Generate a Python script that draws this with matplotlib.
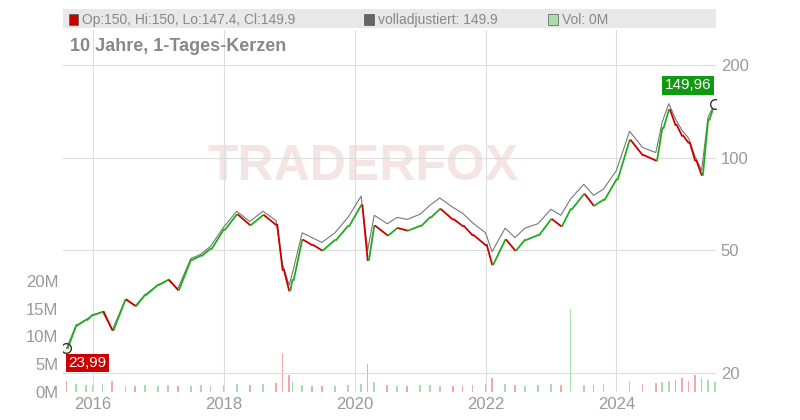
import matplotlib
matplotlib.use("Agg")
import matplotlib.pyplot as plt
import numpy as np
plt.rcParams['font.family'] = ['Liberation Sans', 'DejaVu Sans']

dates = [2015.6,2015.75,2015.9,2016.0,2016.15,2016.3,2016.5,2016.65,2016.8,2017.0,2017.15,2017.3,2017.5,2017.65,2017.8,2018.0,2018.2,2018.4,2018.6,2018.8,2018.9,2019.0,2019.05,2019.2,2019.35,2019.5,2019.7,2019.9,2020.1,2020.2,2020.3,2020.5,2020.65,2020.8,2021.0,2021.15,2021.3,2021.5,2021.65,2021.8,2022.0,2022.1,2022.3,2022.45,2022.6,2022.8,2023.0,2023.15,2023.3,2023.5,2023.65,2023.8,2024.0,2024.2,2024.4,2024.6,2024.7,2024.8,2024.9,2025.0,2025.1,2025.2,2025.3,2025.4,2025.5]
close = [23.99,28.5,29.7,30.8,31.5,27.5,34.5,33.0,35.8,38.6,40.0,37.2,46.5,48.0,50.6,58.3,65.3,60.5,65.0,60.5,43.2,37.0,40.0,54.0,52.0,50.0,54.0,60.0,70.0,46.5,60.0,56.0,59.0,58.0,60.0,64.0,68.0,63.0,60.0,56.0,52.0,45.0,54.0,50.0,54.0,56.0,63.0,60.0,68.0,76.0,70.0,73.0,85.0,114.0,102.0,98.0,125.0,143.0,128.0,118.0,112.0,98.0,88.0,133.0,149.9]
adjusted = [23.99,28.5,29.7,30.8,31.5,27.5,34.5,33.0,35.8,38.6,40.0,37.5,47.0,48.5,51.5,59.5,67.0,62.0,67.0,62.5,45.0,38.5,42.0,57.0,55.0,53.0,57.0,64.0,75.0,50.0,65.0,61.0,64.0,63.0,65.5,70.0,74.0,69.0,66.0,61.5,57.0,49.5,59.0,55.0,59.0,61.0,68.0,65.0,73.5,82.0,75.5,79.0,91.0,122.0,108.0,104.0,131.0,150.0,134.0,123.0,116.0,101.0,91.0,136.0,149.9]
volume = [2.0,1.5,1.2,1.3,1.5,2.0,1.0,1.1,1.2,1.0,1.3,1.1,1.0,1.2,1.1,1.3,1.5,1.2,1.4,1.6,7.0,3.0,1.8,1.2,1.0,1.1,1.0,1.2,1.5,5.0,1.8,1.2,1.0,1.1,1.3,1.2,1.0,1.1,1.0,1.2,1.5,2.5,1.5,1.2,1.1,1.3,1.5,1.2,15.0,1.3,1.2,1.4,1.5,2.0,1.5,1.6,1.8,2.0,2.2,2.5,2.0,3.0,2.5,2.2,1.8]

fig = plt.figure(figsize=(8,4.2), dpi=100)
ax = fig.add_axes([0.079,0.067,0.816,0.862])
axv = ax.twinx()
axv.yaxis.tick_left(); ax.yaxis.tick_right()
axv.set_ylim(0,65.3)
vcols = ["#a8dca8" if i>0 and close[i]>=close[i-1] else "#f0a8a8" for i in range(len(close))]
axv.bar(dates, volume, width=0.025, color=vcols, zorder=1)
axv.set_yticks([0,5,10,15,20]); axv.set_yticklabels(["0M","5M","10M","15M","20M"])

ax.set_zorder(2); ax.patch.set_visible(False)
ax.set_yscale("log"); ax.set_ylim(17.3,261); ax.set_xlim(2015.55,2025.52)
ax.set_yticks([20,50,100,200]); ax.set_yticklabels(["20","50","100","200"])
ax.minorticks_off()
ax.set_xticks([2016,2018,2020,2022,2024]); ax.set_xticklabels(["2016","2018","2020","2022","2024"])
ax.grid(True, color="#dddddd", lw=0.8)
for a in (ax,axv):
    for s in a.spines.values(): s.set_visible(False)
    a.tick_params(colors="#999999", labelsize=12, length=0)

ax.text(0.46,0.62,"TRADERFOX",transform=ax.transAxes,fontsize=36,fontweight="bold",color="#f4e4e4",ha="center",va="center",zorder=0)
ax.plot(dates, adjusted, color="#777777", lw=0.8, zorder=3)
for i in range(1,len(dates)):
    o,c = close[i-1], close[i]
    col = "#22aa22" if c>=o else "#cc0000"
    ax.plot([dates[i-1]+0.02,dates[i]],[o,c],color=col,lw=1.3,zorder=4)
ax.plot([dates[0]],[close[0]],"o",mfc="none",mec="#333333",ms=7,zorder=5)
ax.plot([dates[-1]],[close[-1]],"o",mfc="white",mec="#333333",ms=7,zorder=5)
ax.text(dates[0]+0.03,22.6,"23,99",color="white",fontsize=11,va="top",ha="left",
        bbox=dict(boxstyle="square,pad=0.15",fc="#cc0000",ec="none"),zorder=6)
ax.text(2025.45,172,"149,96",color="white",fontsize=11,va="center",ha="right",
        bbox=dict(boxstyle="square,pad=0.15",fc="#119911",ec="none"),zorder=6)
ax.text(0.01,0.955,"10 Jahre, 1-Tages-Kerzen",transform=ax.transAxes,fontsize=13,fontweight="bold",color="#888888",va="center")

fig.patches.append(plt.Rectangle((0.079,0.933),0.816,0.045,transform=fig.transFigure,fc="#e8e8e8",ec="none"))
items=[(0.086,"#cc0000","Op:150, Hi:150, Lo:147.4, Cl:149.9"),(0.455,"#666666","volladjustiert: 149.9"),(0.685,"#a8dca8","Vol: 0M")]
for x,c,t in items:
    fig.patches.append(plt.Rectangle((x,0.940),0.012,0.026,transform=fig.transFigure,fc=c,ec="#555555",lw=0.5))
    fig.text(x+0.017,0.953,t,fontsize=10,color="#888888",va="center")
fig.savefig("out.png")
